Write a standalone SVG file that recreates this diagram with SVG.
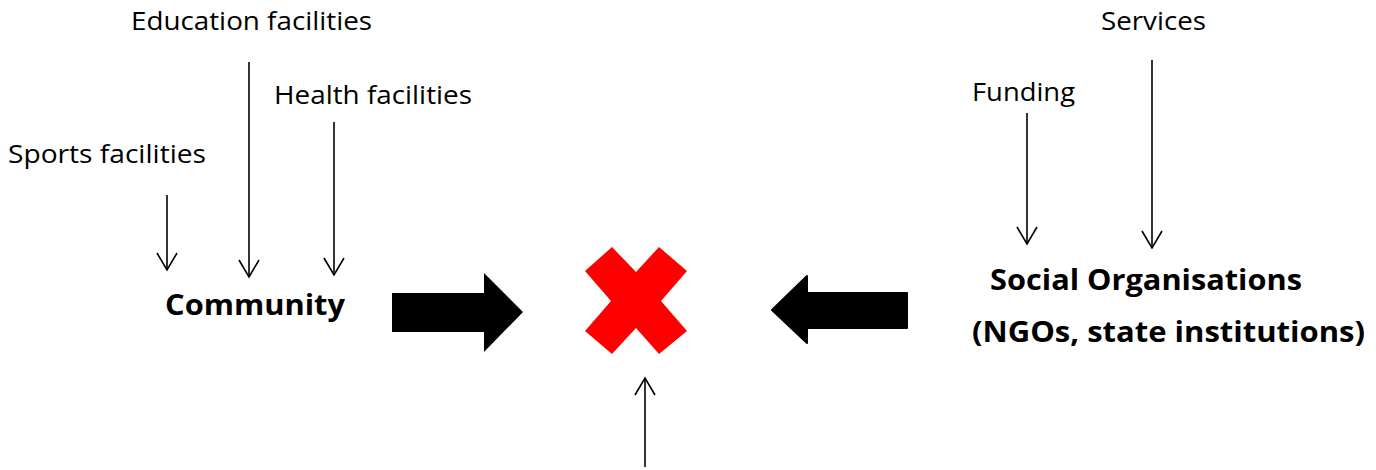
<svg xmlns="http://www.w3.org/2000/svg" width="1376" height="470" viewBox="0 0 1376 470">
<style>
.lbl{font-family:"Open Sans","Liberation Sans",Arial,sans-serif;font-size:25px;fill:#000}
.big{font-family:"Open Sans","Liberation Sans",Arial,sans-serif;font-size:28px;font-weight:bold;fill:#000}
.ln{stroke:#000;stroke-width:1.6;fill:none}
</style>
<defs>
<marker id="ah" markerUnits="userSpaceOnUse" markerWidth="40" markerHeight="40" refX="0" refY="0" viewBox="-20 -20 40 40" orient="auto" overflow="visible">
<path d="M-17,-10 L0,0 L-17,10" fill="none" stroke="#000" stroke-width="1.6"/>
</marker>
</defs>
<rect width="1376" height="470" fill="#fff"/>
<g id="connectors">
<line class="ln" x1="167" y1="195" x2="167" y2="270" marker-end="url(#ah)"/>
<line class="ln" x1="249" y1="62" x2="249" y2="277" marker-end="url(#ah)"/>
<line class="ln" x1="334" y1="122" x2="334" y2="275" marker-end="url(#ah)"/>
<line class="ln" x1="1027" y1="113" x2="1027" y2="244" marker-end="url(#ah)"/>
<line class="ln" x1="1152" y1="60" x2="1152" y2="248" marker-end="url(#ah)"/>
<line class="ln" x1="645" y1="467" x2="645" y2="378" marker-end="url(#ah)"/>
<polygon id="arrow-right" points="392,293 484,293 484,273 523,312 484,352 484,332 392,332" fill="#000"/>
<polygon id="arrow-left" points="772,310 807,276 807,293 907,293 907,328 807,328 807,343" fill="#000" stroke="#000" stroke-width="2" stroke-linejoin="round"/>
</g>
<g id="education"><text class="lbl" x="131" y="30" textLength="241" lengthAdjust="spacingAndGlyphs">Education facilities</text></g>
<g id="health"><text class="lbl" x="274" y="104" textLength="198" lengthAdjust="spacingAndGlyphs">Health facilities</text></g>
<g id="sports"><text class="lbl" x="8" y="163" textLength="198" lengthAdjust="spacingAndGlyphs">Sports facilities</text></g>
<g id="community"><text class="big" x="165" y="315" textLength="180" lengthAdjust="spacingAndGlyphs">Community</text></g>
<g id="services"><text class="lbl" x="1101" y="30" textLength="105" lengthAdjust="spacingAndGlyphs">Services</text></g>
<g id="funding"><text class="lbl" x="972" y="101" textLength="103" lengthAdjust="spacingAndGlyphs">Funding</text></g>
<g id="social-organisations">
<text class="big" x="990" y="290" textLength="312" lengthAdjust="spacingAndGlyphs">Social Organisations</text>
<text class="big" x="972" y="342" textLength="393" lengthAdjust="spacingAndGlyphs">(NGOs, state institutions)</text>
</g>
<g id="cross">
<polygon points="612,247 636,272 659,247 687,271 661,301 687,331 659,354 636,328 612,354 585,331 611,301 585,271" fill="#ff0000"/>
</g>
</svg>
